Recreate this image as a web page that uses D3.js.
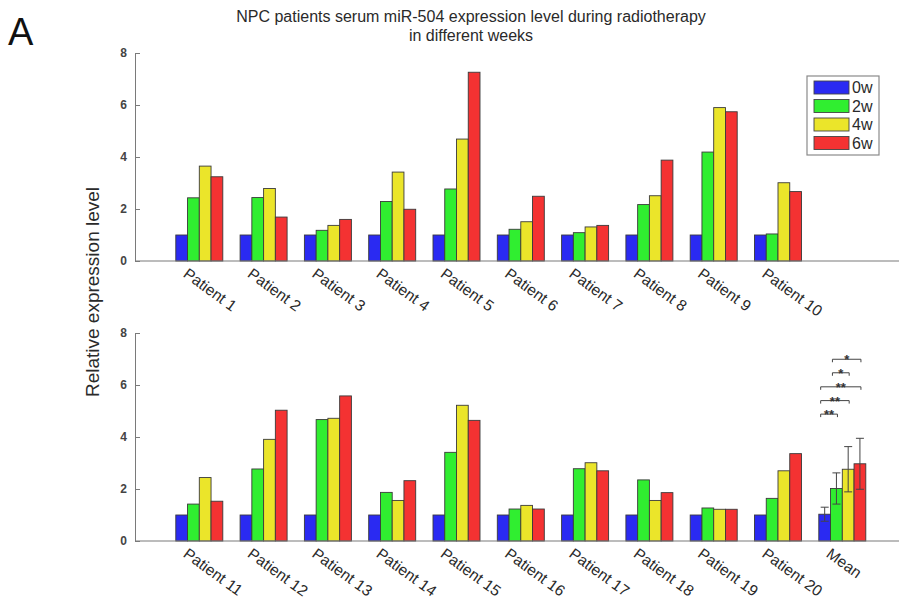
<!DOCTYPE html>
<html>
<head>
<meta charset="utf-8">
<script src="https://cdn.jsdelivr.net/npm/d3@7/dist/d3.min.js"></script>
<style>
  html, body { margin: 0; padding: 0; background: #fff; }
  svg { display: block; font-family: "Liberation Sans", Arial, sans-serif; }
</style>
</head>
<body>
<svg id="chart" width="899" height="608"></svg>
<script>
// ---- data ----
const weeks = ["0w", "2w", "4w", "6w"];
const weekColors = ["#2a2af2", "#30ee30", "#ebe52a", "#f43232"];

const topGroups = ["Patient 1", "Patient 2", "Patient 3", "Patient 4", "Patient 5",
                   "Patient 6", "Patient 7", "Patient 8", "Patient 9", "Patient 10"];
const top0w = [1, 1, 1, 1, 1, 1, 1, 1, 1, 1];
const top2w = [2.43, 2.44, 1.18, 2.29, 2.77, 1.22, 1.09, 2.17, 4.19, 1.04];
const top4w = [3.65, 2.79, 1.37, 3.42, 4.69, 1.51, 1.31, 2.51, 5.90, 3.01];
const top6w = [3.24, 1.69, 1.60, 1.99, 7.26, 2.49, 1.37, 3.88, 5.74, 2.67];

const bottomGroups = ["Patient 11", "Patient 12", "Patient 13", "Patient 14", "Patient 15",
                      "Patient 16", "Patient 17", "Patient 18", "Patient 19", "Patient 20", "Mean"];
const bottom0w = [1, 1, 1, 1, 1, 1, 1, 1, 1, 1, 1.03];
const bottom2w = [1.42, 2.77, 4.67, 1.87, 3.41, 1.23, 2.78, 2.35, 1.27, 1.64, 2.02];
const bottom4w = [2.44, 3.91, 4.72, 1.56, 5.22, 1.37, 3.01, 1.56, 1.22, 2.70, 2.76];
const bottom6w = [1.53, 5.03, 5.58, 2.32, 4.64, 1.23, 2.70, 1.86, 1.22, 3.36, 2.97];
const meanErrors = [0.27, 0.60, 0.87, 0.98];

// significance brackets over the Mean group: [from week, to week, stars, height]
const sigFrom   = ["0w", "0w", "0w", "2w", "2w"];
const sigTo     = ["2w", "4w", "6w", "4w", "6w"];
const sigLabel  = ["**", "**", "**", "*", "*"];
const sigHeight = [4.88, 5.40, 5.93, 6.47, 6.99];

const yTicks = [0, 2, 4, 6, 8];

// ---- layout ----
const svg = d3.select("#chart");
const left = 135, step = 64.3, slots = 12;
const x = d3.scaleLinear().domain([0, slots]).range([left, left + step * slots]);
const inner = d3.scaleBand().domain(weeks).range([-23.5, 23.5]).padding(0);
const color = d3.scaleOrdinal().domain(weeks).range(weekColors);

const yTop = d3.scaleLinear().domain([0, 8]).range([261, 53]);
const yBot = d3.scaleLinear().domain([0, 8]).range([541, 333]);

const axisColor = "#7a7a7a";
const textColor = "#2a2a2a";

function panel(groups, series, y, errors) {
  const g = svg.append("g");
  const rows = groups.map((name, i) => ({
    name, i,
    values: weeks.map((w, k) => ({ week: w, value: series[k][i], k }))
  }));

  // bars
  const grp = g.selectAll("g.grp").data(rows).join("g")
    .attr("class", "grp")
    .attr("transform", d => `translate(${x(d.i + 1)},0)`);
  grp.selectAll("rect").data(d => d.values).join("rect")
    .attr("x", d => inner(d.week))
    .attr("width", inner.bandwidth())
    .attr("y", d => y(d.value))
    .attr("height", d => y(0) - y(d.value))
    .attr("fill", d => color(d.week))
    .attr("stroke", "#3a3a3a")
    .attr("stroke-width", 0.9);

  // error bars on the last group
  if (errors) {
    const last = rows[rows.length - 1];
    const eg = g.append("g").attr("transform", `translate(${x(last.i + 1)},0)`)
      .attr("stroke", "#444").attr("stroke-width", 1).attr("fill", "none");
    last.values.forEach((d, k) => {
      const cx = inner(d.week) + inner.bandwidth() / 2;
      const lo = y(d.value - errors[k]), hi = y(d.value + errors[k]);
      eg.append("line").attr("x1", cx).attr("x2", cx).attr("y1", lo).attr("y2", hi);
      eg.append("line").attr("x1", cx - 4).attr("x2", cx + 4).attr("y1", hi).attr("y2", hi);
      eg.append("line").attr("x1", cx - 4).attr("x2", cx + 4).attr("y1", lo).attr("y2", lo);
    });
  }

  // y axis with inward ticks
  const ya = g.append("g").attr("transform", `translate(${left},0)`)
    .call(d3.axisLeft(y).tickValues(yTicks).tickFormat(d3.format("d"))
      .tickSizeInner(-5).tickSizeOuter(0).tickPadding(8));
  ya.select(".domain").attr("stroke", axisColor);
  ya.selectAll(".tick line").attr("stroke", axisColor);
  ya.selectAll(".tick text").attr("fill", "#444").attr("font-size", 12)
    .attr("font-weight", "bold")
    .attr("font-family", "Liberation Sans, Arial, sans-serif");

  // x axis line
  g.append("line")
    .attr("x1", x(0)).attr("x2", x(slots))
    .attr("y1", y(0)).attr("y2", y(0))
    .attr("stroke", axisColor).attr("stroke-width", 1.2);

  // rotated category labels
  g.selectAll("text.cat").data(rows).join("text")
    .attr("class", "cat")
    .attr("transform", d => `translate(${x(d.i + 1) - 17},${y(0) + 15}) rotate(36)`)
    .attr("font-size", 15.5)
    .attr("fill", textColor)
    .text(d => d.name);

  return g;
}

panel(topGroups, [top0w, top2w, top4w, top6w], yTop, null);
const bottomPanel = panel(bottomGroups, [bottom0w, bottom2w, bottom4w, bottom6w], yBot, meanErrors);

// significance brackets on the Mean group
const meanX = x(bottomGroups.length);
const barCenter = w => meanX + inner(w) + inner.bandwidth() / 2;
const sg = bottomPanel.append("g");
sigLabel.forEach((lab, j) => {
  const x1 = barCenter(sigFrom[j]) - 4;
  const x2 = barCenter(sigTo[j]) + 1;
  const yy = yBot(sigHeight[j]);
  sg.append("path")
    .attr("d", `M${x1},${yy + 3}V${yy}H${x2}V${yy + 3}`)
    .attr("fill", "none").attr("stroke", "#444").attr("stroke-width", 1);
  sg.append("text")
    .attr("x", (x1 + x2) / 2).attr("y", yy + 5)
    .attr("text-anchor", "middle")
    .attr("font-size", 13).attr("font-weight", "bold")
    .attr("fill", "#333")
    .text(lab);
});

// legend
const lg = svg.append("g").attr("transform", "translate(807,76)");
lg.append("rect").attr("width", 72).attr("height", 79)
  .attr("fill", "#fff").attr("stroke", "#8a8a8a").attr("stroke-width", 1.2);
weeks.forEach((w, k) => {
  const row = lg.append("g").attr("transform", `translate(7,${5 + k * 18.5})`);
  row.append("rect").attr("width", 35).attr("height", 13)
    .attr("fill", color(w)).attr("stroke", "#444").attr("stroke-width", 0.9);
  row.append("text").attr("x", 38).attr("y", 12)
    .attr("font-size", 16).attr("fill", textColor).text(w);
});

// title
const title = svg.append("text").attr("text-anchor", "middle")
  .attr("font-size", 16).attr("fill", textColor);
title.append("tspan").attr("x", 471).attr("y", 22)
  .text("NPC patients serum miR-504 expression level during radiotherapy");
title.append("tspan").attr("x", 471).attr("y", 41).text("in different weeks");

// shared y-axis label
svg.append("text")
  .attr("transform", "translate(99,292) rotate(-90)")
  .attr("text-anchor", "middle")
  .attr("font-size", 19).attr("fill", textColor)
  .text("Relative expression level");

// panel letter
svg.append("text").attr("x", 8).attr("y", 45)
  .attr("font-size", 38).attr("fill", "#111").text("A");
</script>
</body>
</html>
